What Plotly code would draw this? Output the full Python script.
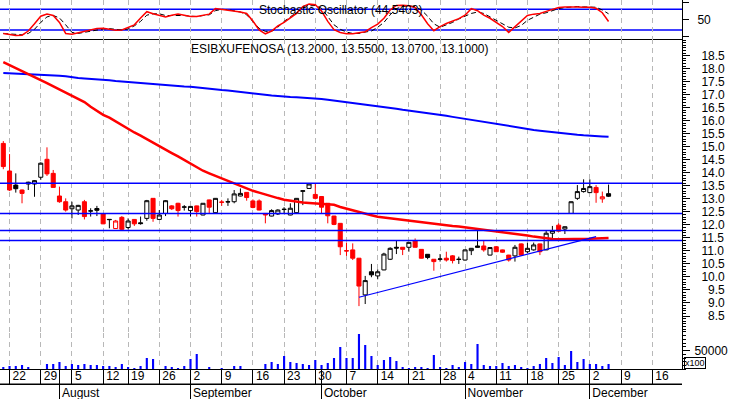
import plotly.graph_objects as go

# ---------------- data ----------------
opens = [15.13, 14.07, 13.53, 13.34, 13.64, 13.57, 13.83, 14.52, 13.98, 13.11,
         12.89, 12.62, 12.57, 12.89, 12.53, 12.63, 12.42, 12.20, 11.86, 12.29,
         11.90, 12.21, 12.08, 12.25, 13.02, 12.21, 12.44, 12.73, 12.83, 12.68,
         12.55, 12.73, 12.38, 12.96, 12.47, 12.88, 12.88, 12.89, 13.11, 13.25,
         12.92, 12.92, 12.44, 12.34, 12.42, 12.59, 12.38, 12.47, 13.29, 13.40,
         13.17, 13.09, 12.83, 12.34, 12.06, 11.01, 11.04, 10.72, 9.31, 10.20,
         10.04, 10.27, 10.68, 11.14, 11.14, 11.14, 11.39, 11.06, 10.87, 10.68,
         10.68, 10.72, 10.81, 10.67, 10.65, 11.01, 11.19, 11.19, 10.84, 11.16,
         11.04, 10.84, 10.81, 11.27, 10.97, 11.04, 11.27, 11.04, 11.68, 11.99,
         11.84, 12.44, 13.02, 13.28, 13.24, 13.44, 13.00, 13.20]
highs = [15.22, 14.72, 13.98, 13.36, 13.66, 13.72, 14.40, 14.98, 14.11, 13.47,
         13.02, 12.89, 12.77, 12.96, 12.64, 12.73, 12.43, 12.22, 12.19, 12.34,
         12.25, 12.22, 12.32, 12.96, 13.03, 12.57, 12.95, 12.76, 12.85, 12.76,
         12.72, 12.74, 12.84, 12.97, 13.03, 12.96, 13.02, 13.34, 13.40, 13.26,
         12.98, 12.98, 12.45, 12.60, 12.60, 12.68, 12.83, 13.03, 13.32, 13.60,
         13.57, 13.10, 12.84, 12.35, 12.07, 11.32, 11.29, 10.73, 10.04, 10.50,
         10.29, 10.93, 11.14, 11.39, 11.15, 11.34, 11.48, 11.07, 10.88, 10.69,
         10.88, 10.97, 10.84, 10.78, 11.05, 11.11, 11.78, 11.39, 11.14, 11.19,
         11.05, 10.85, 11.23, 11.29, 11.32, 11.32, 11.28, 11.80, 11.96, 12.06,
         11.94, 12.90, 13.53, 13.75, 13.75, 13.53, 13.28, 13.55]
lows = [14.14, 13.30, 13.24, 12.83, 13.34, 13.08, 13.73, 13.88, 13.44, 12.85,
        12.51, 12.25, 12.38, 12.21, 12.32, 12.34, 12.03, 11.87, 11.85, 11.80,
        11.83, 11.96, 12.01, 12.16, 12.12, 12.20, 12.34, 12.57, 12.32, 12.55,
        12.32, 12.32, 12.37, 12.44, 12.46, 12.73, 12.73, 12.83, 13.10, 12.93,
        12.64, 12.56, 12.06, 12.33, 12.38, 12.44, 12.37, 12.46, 12.76, 13.39,
        12.98, 12.44, 12.06, 11.99, 10.84, 10.81, 10.65, 8.88, 8.96, 9.99,
        9.91, 10.26, 10.65, 10.88, 10.84, 10.97, 11.13, 10.71, 10.68, 10.24,
        10.59, 10.59, 10.52, 10.50, 10.63, 10.84, 11.13, 10.97, 10.83, 10.96,
        10.93, 10.59, 10.59, 10.81, 10.91, 11.01, 10.84, 11.03, 11.48, 11.74,
        11.65, 12.43, 12.96, 13.24, 13.23, 12.85, 12.85, 13.07]
closes = [14.24, 13.34, 13.39, 13.21, 13.57, 13.70, 14.37, 13.96, 13.44, 12.89,
          12.57, 12.73, 12.75, 12.32, 12.54, 12.56, 12.04, 12.21, 12.15, 11.83,
          12.15, 12.04, 12.05, 12.93, 12.25, 12.38, 12.93, 12.62, 12.55, 12.69,
          12.71, 12.51, 12.83, 12.68, 13.02, 12.87, 12.89, 13.19, 13.21, 13.05,
          12.67, 12.57, 12.38, 12.55, 12.57, 12.60, 12.64, 13.02, 13.31, 13.57,
          13.02, 12.68, 12.35, 12.02, 11.16, 11.00, 10.72, 9.65, 9.86, 10.08,
          10.20, 10.88, 11.10, 11.11, 11.06, 11.33, 11.14, 10.72, 10.75, 10.59,
          10.69, 10.65, 10.63, 10.68, 11.04, 11.10, 11.14, 11.04, 11.13, 10.97,
          10.95, 10.65, 11.14, 10.84, 11.10, 11.23, 10.97, 11.68, 11.78, 11.76,
          11.93, 12.89, 13.28, 13.40, 13.47, 13.24, 13.08, 13.10]
# volume in hundreds of shares (axis shows x100)
volume = [6300, 9000, 9000, 11600, 6300, 0, 0, 14300, 14300, 19700,
          9000, 14300, 11600, 14300, 11600, 11600, 9000, 9000, 6300, 14300,
          6300, 3600, 9000, 30500, 27800, 0, 9000, 6300, 3600, 9000,
          27800, 41200, 0, 6300, 0, 3600, 0, 9000, 9000, 0,
          0, 0, 14300, 19700, 14300, 35800, 19700, 17000, 14300, 11600,
          25100, 11600, 17000, 30500, 60000, 30500, 30500, 95000, 65400, 35800,
          11600, 25100, 33200, 22400, 6300, 3600, 6300, 6300, 3600, 38500,
          6300, 3600, 11600, 6300, 19700, 14300, 68100, 11600, 9000, 9000,
          17000, 9000, 11600, 6300, 3600, 9000, 14300, 30500, 17000, 33200,
          11600, 49300, 19700, 27800, 14300, 14300, 9000, 14300]
ma_red = [18.25, 18.13, 18.02, 17.91, 17.79, 17.67, 17.56, 17.45, 17.33, 17.21,
          17.09, 16.98, 16.87, 16.72, 16.54, 16.37, 16.23, 16.12, 15.97, 15.82,
          15.67, 15.55, 15.43, 15.29, 15.16, 15.03, 14.90, 14.76, 14.63, 14.49,
          14.35, 14.22, 14.08, 13.98, 13.88, 13.78, 13.68, 13.59, 13.49, 13.39,
          13.31, 13.24, 13.16, 13.10, 13.03, 12.97, 12.93, 12.89, 12.86, 12.84,
          12.82, 12.80, 12.79, 12.77, 12.69, 12.62, 12.56, 12.48, 12.43, 12.37,
          12.31, 12.28, 12.25, 12.22, 12.19, 12.16, 12.12, 12.09, 12.06, 12.03,
          12.01, 11.99, 11.96, 11.94, 11.91, 11.86, 11.83, 11.80, 11.78, 11.75,
          11.72, 11.68, 11.65, 11.62, 11.59, 11.55, 11.52, 11.48, 11.46, 11.45,
          11.45, 11.45, 11.46, 11.46, 11.47, 11.48, 11.49, 11.50]
ma_blue = [17.84, 17.83, 17.81, 17.80, 17.79, 17.77, 17.76, 17.75, 17.74, 17.73,
           17.71, 17.67, 17.64, 17.62, 17.61, 17.59, 17.58, 17.56, 17.53, 17.51,
           17.48, 17.47, 17.45, 17.43, 17.41, 17.40, 17.38, 17.36, 17.34, 17.32,
           17.31, 17.28, 17.25, 17.23, 17.20, 17.18, 17.16, 17.13, 17.11, 17.08,
           17.06, 17.03, 17.00, 16.97, 16.95, 16.92, 16.91, 16.90, 16.89, 16.87,
           16.86, 16.84, 16.81, 16.78, 16.75, 16.72, 16.68, 16.65, 16.62, 16.58,
           16.55, 16.52, 16.49, 16.46, 16.42, 16.39, 16.36, 16.33, 16.29, 16.26,
           16.22, 16.19, 16.15, 16.11, 16.08, 16.04, 16.00, 15.96, 15.91, 15.87,
           15.83, 15.80, 15.76, 15.72, 15.69, 15.65, 15.62, 15.59, 15.56, 15.53,
           15.51, 15.48, 15.46, 15.44, 15.42, 15.41, 15.40, 15.39]
stoch_k = [10, 8, 4, 5, 17, 38, 60, 66, 62, 42,
           10, 8, 12, 15, 20, 24, 25, 22, 19, 20,
           28, 35, 55, 73, 67, 62, 58, 63, 66, 63,
           59, 59, 62, 66, 82, 80, 78, 74, 72, 68,
           46, 20, 9, 17, 32, 42, 55, 68, 88, 95,
           93, 75, 45, 21, 13, 9, 9, 11, 15, 27,
           37, 54, 78, 91, 92, 90, 85, 64, 38, 18,
           30, 39, 46, 53, 63, 82, 76, 63, 54, 42,
           30, 13, 30, 45, 62, 66, 68, 74, 80, 85,
           87, 88, 87, 86, 86, 83, 70, 44.54]
stoch_d = [10, 9, 7, 6, 10, 22, 42, 58, 62, 55,
           35, 13, 10, 13, 18, 21, 23, 24, 21, 20,
           23, 32, 45, 63, 67, 67, 62, 62, 63, 62,
           60, 59, 62, 64, 76, 80, 79, 76, 72, 64,
           45, 25, 16, 16, 28, 45, 58, 70, 84, 90,
           91, 83, 58, 35, 22, 14, 10, 10, 14, 17,
           28, 42, 64, 82, 88, 90, 88, 78, 60, 38,
           28, 34, 42, 52, 60, 68, 72, 68, 58, 48,
           36, 28, 26, 33, 48, 58, 66, 70, 76, 82,
           85, 87, 88, 87, 86, 86, 78, 67]
price_levels = [13.60, 12.44, 11.78, 11.40]
stoch_levels = [80, 20]
trend_x = [57, 95]
trend_y = [9.22, 11.55]

# trading-day index of each weekly tick (Mondays) and month starts
week_ticks = [1, 6, 11, 16, 20, 25, 30, 35, 40, 45, 50, 55, 60, 65, 70, 74,
              79, 84, 89, 94, 99, 104]
week_labels = ["22", "29", "5", "12", "19", "26", "2", "9", "16", "23", "30",
               "7", "14", "21", "28", "4", "11", "18", "25", "2", "9", "16"]
month_ticks = [9, 30, 51, 74, 94]
month_labels = ["August", "September", "October", "November", "December"]
price_ticks = [8.5, 9.0, 9.5, 10.0, 10.5, 11.0, 11.5, 12.0, 12.5, 13.0, 13.5,
               14.0, 14.5, 15.0, 15.5, 16.0, 16.5, 17.0, 17.5, 18.0, 18.5]
stoch_ticks = [0, 50, 100]
stoch_tick_text = ["", "50", ""]
volume_ticks = [50000]
volume_tick_text = ["50000"]

title_stoch = "Stochastic Oscillator (44.5403)"
title_price = "ESIBXUFENOSA (13.2000, 13.5500, 13.0700, 13.1000)"

# ---------------- figure ----------------
FONT = "Liberation Sans, Arial, sans-serif"
W, H = 730, 399
XR = [-0.53, 108.77]

n = len(closes)
xs = list(range(n))

fig = go.Figure()

# stochastic
fig.add_trace(go.Scatter(x=xs, y=stoch_d, mode="lines", xaxis="x", yaxis="y",
                         line=dict(color="black", width=1, dash="5px,3px")))
fig.add_trace(go.Scatter(x=xs, y=stoch_k, mode="lines", xaxis="x", yaxis="y",
                         line=dict(color="#ff0000", width=1.5)))

# candles: red when close below previous close, filled when close below open
groups = {}
for i in range(n):
    prev = closes[i - 1] if i > 0 else opens[i]
    color = "#ff0000" if closes[i] < prev else "#000000"
    filled = closes[i] < opens[i]
    groups.setdefault((color, filled), []).append(i)
for (color, filled), idx in groups.items():
    style = dict(line=dict(color=color, width=1),
                 fillcolor=color if filled else "#ffffff")
    fig.add_trace(go.Candlestick(
        x=[xs[i] for i in idx], open=[opens[i] for i in idx],
        high=[highs[i] for i in idx], low=[lows[i] for i in idx],
        close=[closes[i] for i in idx], increasing=style, decreasing=style,
        whiskerwidth=0, xaxis="x2", yaxis="y2", hoverinfo="skip"))

fig.add_trace(go.Scatter(x=xs, y=ma_blue, mode="lines", xaxis="x2", yaxis="y2",
                         line=dict(color="#0000ff", width=2)))
fig.add_trace(go.Scatter(x=xs, y=ma_red, mode="lines", xaxis="x2", yaxis="y2",
                         line=dict(color="#ff0000", width=2.5)))
fig.add_trace(go.Scatter(x=trend_x, y=trend_y, mode="lines", xaxis="x2", yaxis="y2",
                         line=dict(color="#0000ff", width=1.2)))

# volume
fig.add_trace(go.Bar(x=xs, y=volume, width=0.34, xaxis="x3", yaxis="y3",
                     marker=dict(color="#0000ff", line=dict(width=0))))

# empty carrier traces so the two date-row axes get drawn
for ax in ("4", "5"):
    fig.add_trace(go.Scatter(x=[XR[0]], y=[-5], mode="markers", xaxis="x" + ax,
                             yaxis="y" + ax, marker=dict(opacity=0), hoverinfo="skip"))

# horizontal levels
for lv in price_levels:
    fig.add_shape(type="line", xref="x2 domain", yref="y2", x0=0, x1=1, y0=lv, y1=lv,
                  line=dict(color="#0000ff", width=1.5))
for lv in stoch_levels:
    fig.add_shape(type="line", xref="x domain", yref="y", x0=0, x1=1, y0=lv, y1=lv,
                  line=dict(color="#0000ff", width=1.5), layer="below")
# rule between the day row and the month row
fig.add_shape(type="line", xref="x5 domain", yref="y5 domain", x0=0, x1=1, y0=0, y1=0,
              line=dict(color="black", width=1))


def py(p):
    return (H - p) / H


grid = dict(tickvals=week_ticks, showticklabels=False, ticks="", showgrid=True,
            gridcolor="#b8b8b8", griddash="5px,4px", gridwidth=1, zeroline=False,
            range=XR, fixedrange=True)

tickfont = dict(family=FONT, size=12, color="black")
price_text = [("\u2007" if v < 10 else "") + f"{v:.1f}" for v in price_ticks]

fig.update_layout(
    width=W, height=H, margin=dict(l=0, r=48, t=0, b=0, pad=0),
    paper_bgcolor="white", plot_bgcolor="white", showlegend=False,
    hovermode=False, boxgap=0.35, boxgroupgap=0,
    font=dict(family=FONT, size=12, color="black"),
    xaxis=dict(**grid, anchor="y", showline=True, linecolor="black", linewidth=1),
    xaxis2=dict(**grid, anchor="y2", showline=False, rangeslider=dict(visible=False)),
    xaxis3=dict(**grid, anchor="y3", showline=True, linecolor="black", linewidth=1),
    xaxis5=dict(anchor="y5", range=XR, tickvals=week_ticks, ticktext=week_labels,
                ticks="inside", ticklen=14, tickcolor="black", tickwidth=1,
                ticklabelposition="inside right", ticklabeloverflow="allow",
                ticklabelstandoff=-2, ticklabelshift=2,
                showline=True, linecolor="black", linewidth=1, showgrid=False,
                zeroline=False, tickfont=tickfont, fixedrange=True),
    xaxis4=dict(anchor="y4", range=XR, tickvals=month_ticks, ticktext=month_labels,
                ticks="inside", ticklen=30, tickcolor="black", tickwidth=1,
                ticklabelposition="inside right", ticklabeloverflow="allow",
                ticklabelstandoff=-6, ticklabelshift=2,
                showline=False, showgrid=False, zeroline=False, tickfont=tickfont,
                fixedrange=True),
    yaxis=dict(domain=[py(39.3), 1.0], anchor="x", side="right", range=[-6.96, 106.96],
               tickvals=stoch_ticks, ticktext=stoch_tick_text, ticks="outside",
               ticklen=6, tickcolor="black", showline=True, linecolor="black",
               showgrid=False, zeroline=False, tickfont=tickfont,
               ticklabelstandoff=6, fixedrange=True),
    yaxis2=dict(domain=[py(333), py(39.3)], anchor="x2", side="right",
                range=[7.847, 19.13], tickvals=price_ticks, ticktext=price_text,
                ticks="outside", ticklen=7, tickcolor="black", showline=True,
                linecolor="black", showgrid=False, zeroline=False, tickfont=tickfont,
                minor=dict(dtick=0.1, ticklen=3, ticks="outside", tickcolor="black",
                           showgrid=False),
                ticklabelstandoff=9, fixedrange=True),
    yaxis3=dict(domain=[py(369.3), py(333)], anchor="x3", side="right",
                range=[0, 97580], tickvals=volume_ticks, ticktext=volume_tick_text,
                ticks="outside", ticklen=7, tickcolor="black", showline=True,
                linecolor="black", showgrid=False, zeroline=False, tickfont=tickfont,
                minor=dict(dtick=10000, ticklen=3, ticks="outside", tickcolor="black",
                           showgrid=False),
                ticklabelstandoff=2, fixedrange=True),
    yaxis4=dict(domain=[0, py(384)], anchor="x4", range=[0, 1], visible=False,
                fixedrange=True),
    yaxis5=dict(domain=[py(384), py(369.3)], anchor="x5", range=[0, 1], visible=False,
                fixedrange=True),
)

fig.add_annotation(text=title_stoch, xref="paper", yref="paper", x=340 / 682, y=py(9.5),
                   xanchor="center", yanchor="middle", showarrow=False,
                   font=dict(family=FONT, size=12, color="black"))
fig.add_annotation(text=title_price, xref="paper", yref="paper", x=340 / 682, y=py(49),
                   xanchor="center", yanchor="middle", showarrow=False,
                   font=dict(family=FONT, size=12, color="black"))
fig.add_annotation(text="x100", xref="paper", yref="paper", x=683.5 / 682, y=py(363),
                   xanchor="left", yanchor="middle", showarrow=False,
                   bordercolor="black", borderwidth=1, borderpad=0,
                   font=dict(family=FONT, size=9, color="black"))

fig.write_html("out.html", config={"displayModeBar": False},
               post_script="document.body.style.margin='0';document.body.style.padding='0';")
